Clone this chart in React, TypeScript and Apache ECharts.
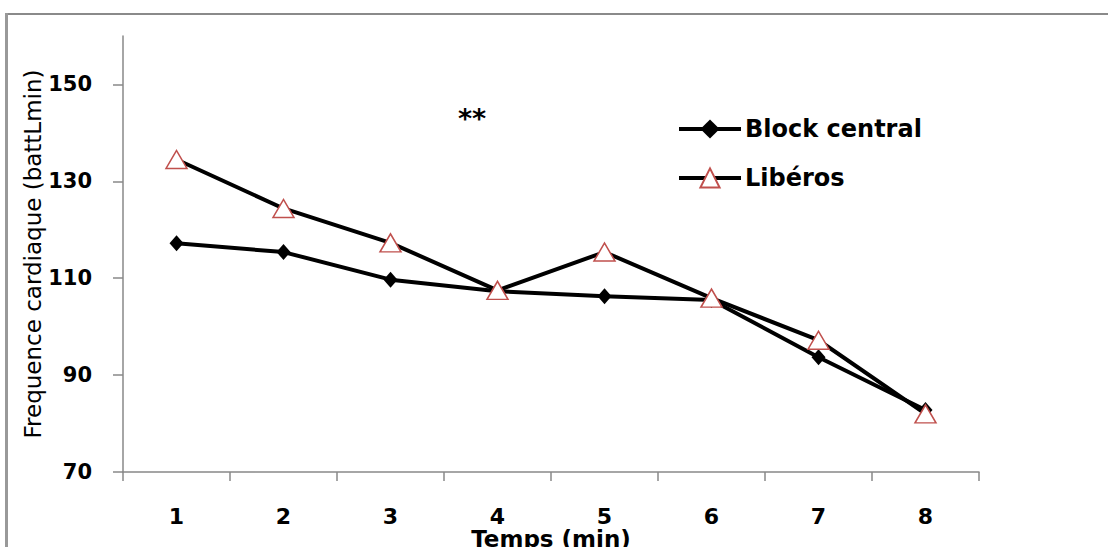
import React, { useEffect, useRef } from "react";
import * as echarts from "echarts";

const categories = ["1", "2", "3", "4", "5", "6", "7", "8"];
const blockCentral = [117.2, 115.4, 109.7, 107.3, 106.3, 105.5, 93.7, 82.8];
const liberos = [134.5, 124.4, 117.3, 107.5, 115.4, 105.9, 97.2, 82.0];
const yTicks = [70, 90, 110, 130, 150];

export default function App() {
  const ref = useRef<HTMLDivElement>(null);
  useEffect(() => {
    document.body.style.margin = "0";
    const chart = echarts.init(ref.current!, null, { renderer: "svg" });
    const font = "DejaVu Sans";
    chart.setOption({
      animation: false,
      backgroundColor: "#fff",
      textStyle: { fontFamily: font },
      grid: { left: 123, right: 129, top: 36, bottom: 75, containLabel: false, outerBoundsMode: "none" },
      legend: {
        orient: "vertical",
        left: 672,
        top: 112,
        itemWidth: 62,
        itemHeight: 24,
        itemGap: 25,
        lineStyle: { width: 4, color: "#000" },
        textStyle: { fontFamily: font, fontWeight: "bold", fontSize: 24, color: "#000", padding: [0, 0, 0, -1] },
        data: ["Block central", "Libéros"],
      },
      xAxis: {
        type: "category",
        data: categories,
        boundaryGap: true,
        name: "Temps (min)",
        nameLocation: "middle",
        nameGap: 55,
        nameMoveOverlap: false,
        nameTextStyle: { fontFamily: font, fontWeight: "bold", fontSize: 23, lineHeight: 24, color: "#000", verticalAlign: "top" },
        axisLine: { lineStyle: { color: "#888", width: 1.5 } },
        axisTick: { show: true, length: 9, lineStyle: { color: "#888", width: 1.5 } },
        axisLabel: { margin: 34, fontFamily: font, fontWeight: "bold", fontSize: 22, lineHeight: 20, color: "#000", verticalAlign: "top" },
        splitLine: { show: false },
      },
      yAxis: {
        type: "value",
        min: 70,
        max: 160,
        interval: 20,
        name: "Frequence cardiaque (battLmin)",
        nameLocation: "middle",
        nameGap: 79,
        nameMoveOverlap: false,
        nameTextStyle: { fontFamily: font, fontSize: 23, color: "#000" },
        axisLine: { show: true, lineStyle: { color: "#888", width: 1.5 } },
        axisTick: { show: true, length: 10, customValues: yTicks, lineStyle: { color: "#888", width: 1.5 } },
        axisLabel: { margin: 31, customValues: yTicks, fontFamily: font, fontWeight: "bold", fontSize: 21, color: "#000" },
        splitLine: { show: false },
      },
      graphic: [
        { type: "rect", shape: { x: 5, y: 13, width: 1103, height: 2 }, style: { fill: "#8a8a8a" } },
        { type: "rect", shape: { x: 5, y: 13, width: 3, height: 534 }, style: { fill: "#999" } },
        {
          type: "text",
          left: 458,
          top: 105,
          style: { text: "**", fontFamily: font, fontWeight: "bold", fontSize: 27, fill: "#000" },
        },
      ],
      series: [
        {
          name: "Block central",
          type: "line",
          data: blockCentral,
          symbol: "diamond",
          symbolSize: [14, 16],
          lineStyle: { color: "#000", width: 4 },
          itemStyle: { color: "#000" },
          z: 2,
        },
        {
          name: "Libéros",
          type: "line",
          data: liberos,
          symbol: "triangle",
          symbolSize: [21, 18],
          lineStyle: { color: "#000", width: 4 },
          itemStyle: { color: "#fff", borderColor: "#c0504d", borderWidth: 1.5 },
          z: 3,
        },
      ],
    });
    return () => chart.dispose();
  }, []);
  return <div ref={ref} style={{ position: "absolute", left: 0, top: 0, width: 1108, height: 547 }} />;
}
